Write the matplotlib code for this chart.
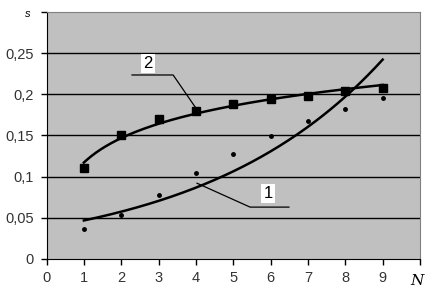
import matplotlib.pyplot as plt
import numpy as np

plt.rcParams['font.family'] = ['Liberation Sans', 'DejaVu Sans']

n = np.array([1, 2, 3, 4, 5, 6, 7, 8, 9])
s1 = np.array([0.036, 0.053, 0.078, 0.105, 0.127, 0.149, 0.167, 0.182, 0.195])
s2 = np.array([0.110, 0.151, 0.170, 0.180, 0.188, 0.194, 0.198, 0.204, 0.208])

y_ticks = [0, 0.05, 0.1, 0.15, 0.2, 0.25]
y_labels = ['0', '0,05', '0,1', '0,15', '0,2', '0,25']

fig = plt.figure(figsize=(4.33, 2.9), dpi=100)
ax = fig.add_axes([0.1074, 0.107, 0.8626, 0.8516])
ax.set_facecolor('#c0c0c0')

# trend lines (Excel-style): exponential for 1, logarithmic for 2
xf = np.linspace(1, 9, 200)
k1, b1 = np.polyfit(n, np.log(s1), 1)
k2, b2 = np.polyfit(np.log(n), s2, 1)

for y in y_ticks[1:]:
    ax.axhline(y, color='black', lw=1, zorder=1)

ax.plot(xf, np.exp(b1) * np.exp(k1 * xf), color='black', lw=1.8, zorder=3)
ax.plot(xf, k2 * np.log(xf) + b2, color='black', lw=1.8, zorder=3)
ax.plot(n, s1, 'o', color='black', ms=2.5, zorder=4)
ax.plot(n, s2, 's', color='black', ms=5.5, zorder=4)

# callouts
ax.plot([2.29, 3.39, 3.98], [0.2235, 0.2235, 0.1846], color='black', lw=0.9, zorder=2)
ax.text(2.72, 0.238, '2', ha='center', va='center', fontsize=12,
        bbox=dict(facecolor='white', edgecolor='none', pad=1.5))
ax.plot([6.49, 5.45, 4.03], [0.063, 0.063, 0.092], color='black', lw=0.9, zorder=2)
ax.text(5.93, 0.080, '1', ha='center', va='center', fontsize=12,
        bbox=dict(facecolor='white', edgecolor='none', pad=1.5))

ax.set_xlim(0, 10)
ax.set_ylim(0, 0.3)
ax.set_xticks(range(11))
ax.set_xticklabels([str(i) for i in range(10)] + [''], fontsize=10.5, color='#333333')
ax.set_yticks(y_ticks + [0.3])
ax.set_yticklabels(y_labels + [''], fontsize=10.5, color='#333333')
ax.tick_params(length=4, width=1, pad=5)

ax.text(-0.5, 0.297, 's', fontsize=8, style='italic', ha='center', va='center')
ax.text(9.93, -0.027, 'N', fontsize=11, style='italic', family='DejaVu Serif',
        ha='center', va='center')

for side in ['top', 'right']:
    ax.spines[side].set_color('#808080')
for side in ['left', 'bottom']:
    ax.spines[side].set_color('black')

fig.savefig('out.png', dpi=100)
